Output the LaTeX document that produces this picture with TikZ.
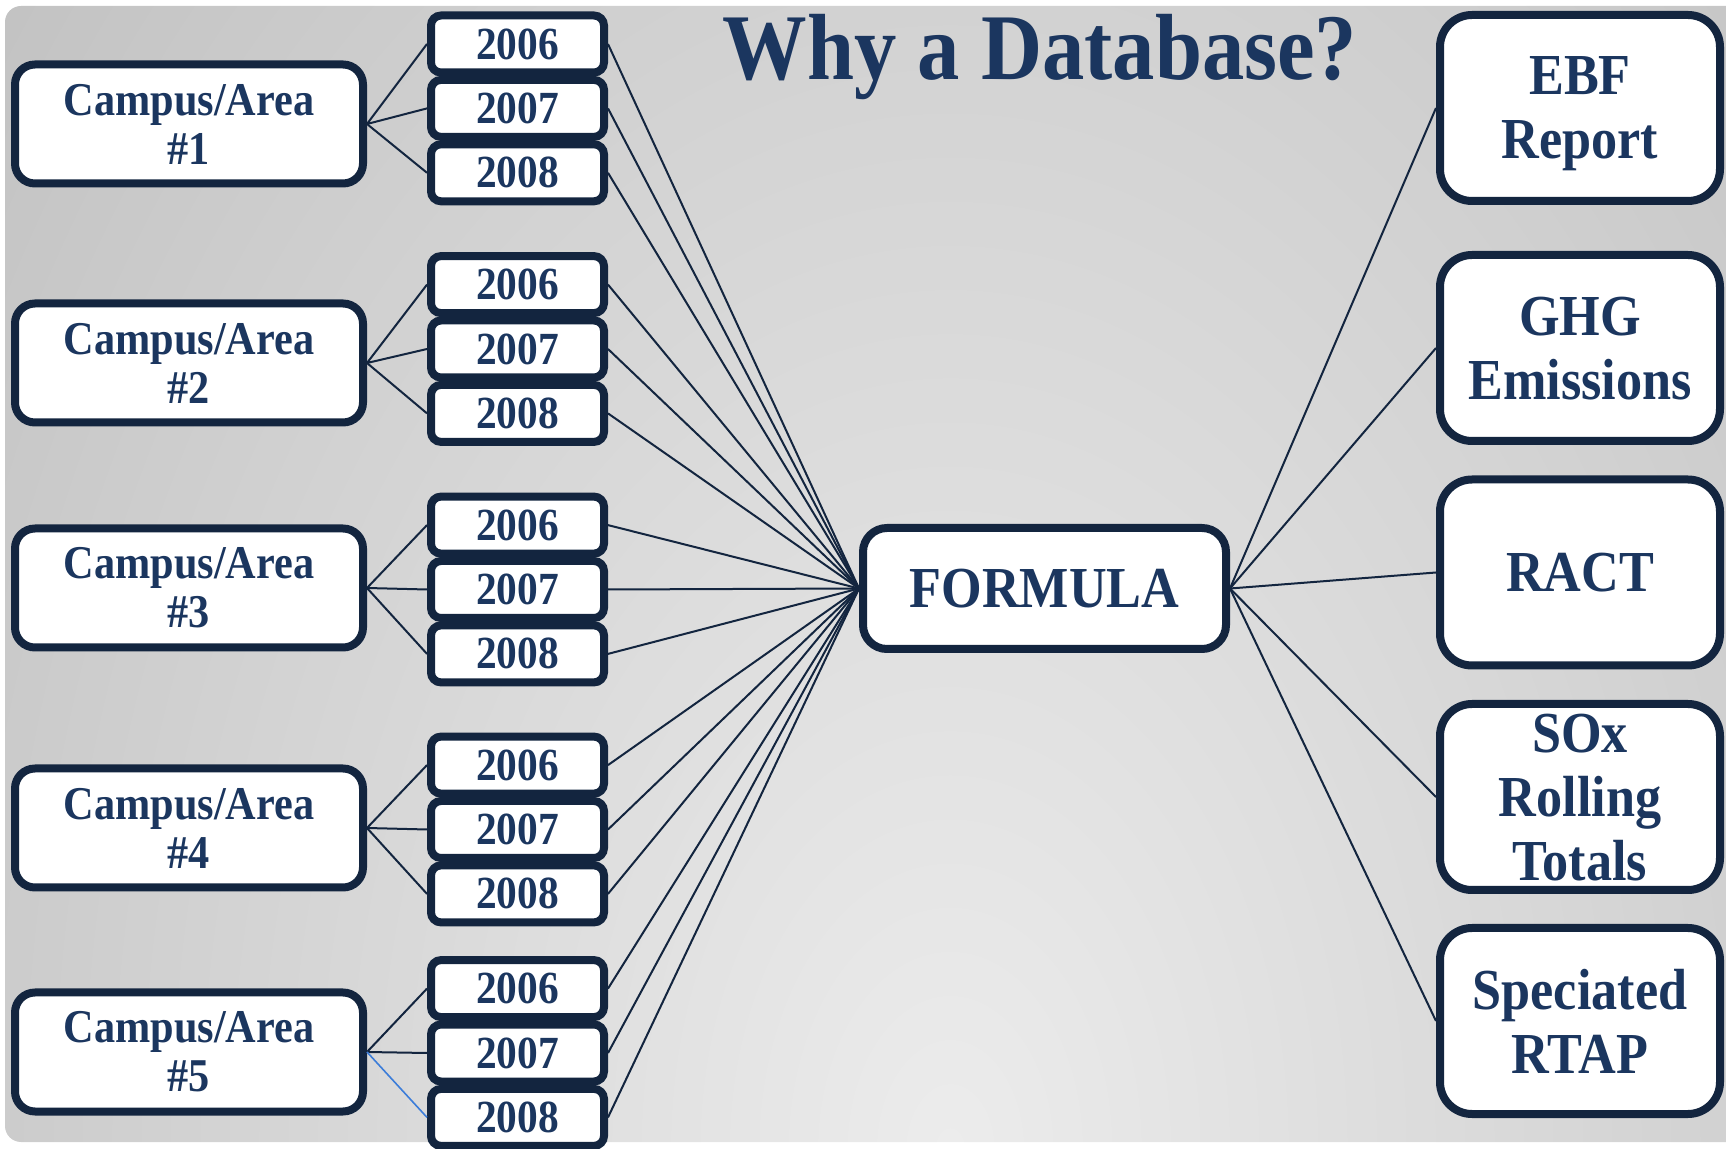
\documentclass[tikz,border=0pt]{standalone}
\usepackage{fontspec}
\setmainfont{Liberation Serif}[FakeStretch=0.9]

\definecolor{navyline}{HTML}{13253F}
\definecolor{navytext}{HTML}{1B365F}
\definecolor{bglight}{HTML}{ECECEC}
\definecolor{bgdark}{HTML}{A8A8A8}
\definecolor{slipblue}{HTML}{3C7DD9}

\begin{document}
\begin{tikzpicture}[x=0.5pt,y=-0.5pt,
    box/.style={draw=navyline, line width=4pt, fill=white, text=navytext, align=center, inner sep=0pt},
    campusbox/.style={box, rounded corners=10pt, minimum width=174pt, minimum height=59.5pt,
        font=\fontsize{23.5}{24.5}\selectfont\bfseries},
    yearbox/.style={box, rounded corners=5pt, minimum width=86.5pt, minimum height=28.5pt,
        font=\fontsize{23}{24}\selectfont\bfseries},
    outbox/.style={box, rounded corners=16pt, minimum width=140pt, minimum height=93pt,
        text depth=0pt, font=\fontsize{29}{32}\selectfont\bfseries},
    link/.style={draw=navyline, line width=1pt}]
    \useasboundingbox (0,0) rectangle (1726,1149);

    % grey slide background
    \begin{scope}
        \clip[rounded corners=8pt] (5,6) rectangle (1760,1142);
        \shade[inner color=bglight, outer color=bgdark] (950-2000,1150-3000) rectangle (950+2000,1150+3000);
    \end{scope}

    \node[text=navytext, font=\fontsize{47}{50}\selectfont\bfseries, anchor=base] (title) at (1040,80) {Why a Database?};

    \node[box, rounded corners=12pt, minimum width=181.5pt, minimum height=60.5pt,
        font=\fontsize{29}{32}\selectfont\bfseries] (formula) at (1044.5,588.5) {FORMULA};

    % campuses and their years
    \foreach \n/\y in {1/124,2/363,3/588,4/828,5/1052}
        \node[campusbox] (campus\n) at (189,\y) {Campus/Area\\\#\n};
    \foreach \n/\y in {1/108.4,2/349,3/589.5,4/829.5,5/1053}
        \foreach \yr/\dy in {2006/-64.4,2007/0,2008/64.4} {
            \node[yearbox] (y\n-\yr) at (517.5,\y+\dy) {\yr};
            \draw[link] (y\n-\yr.east) -- (formula.west);
        }
    \foreach \n in {1,2,3,4,5}
        \draw[link] (y\n-2006.west) -- (campus\n.east) -- (y\n-2007.west);
    \foreach \n in {1,2,3,4}
        \draw[link] (campus\n.east) -- (y\n-2008.west);
    \draw[slipblue, line width=0.8pt] (campus5.east) -- (y5-2008.west);

    % reports
    \foreach \n/\y/\txt in {1/108/{EBF\\Report}, 2/348/{GHG\\Emissions}, 3/572.5/{RACT},
            4/797/{SOx\\Rolling\\Totals}, 5/1021/{Speciated\\RTAP}} {
        \node[outbox] (out\n) at (1580,\y) {\txt};
        \draw[link] (formula.east) -- (out\n.west);
    }
\end{tikzpicture}
\end{document}
